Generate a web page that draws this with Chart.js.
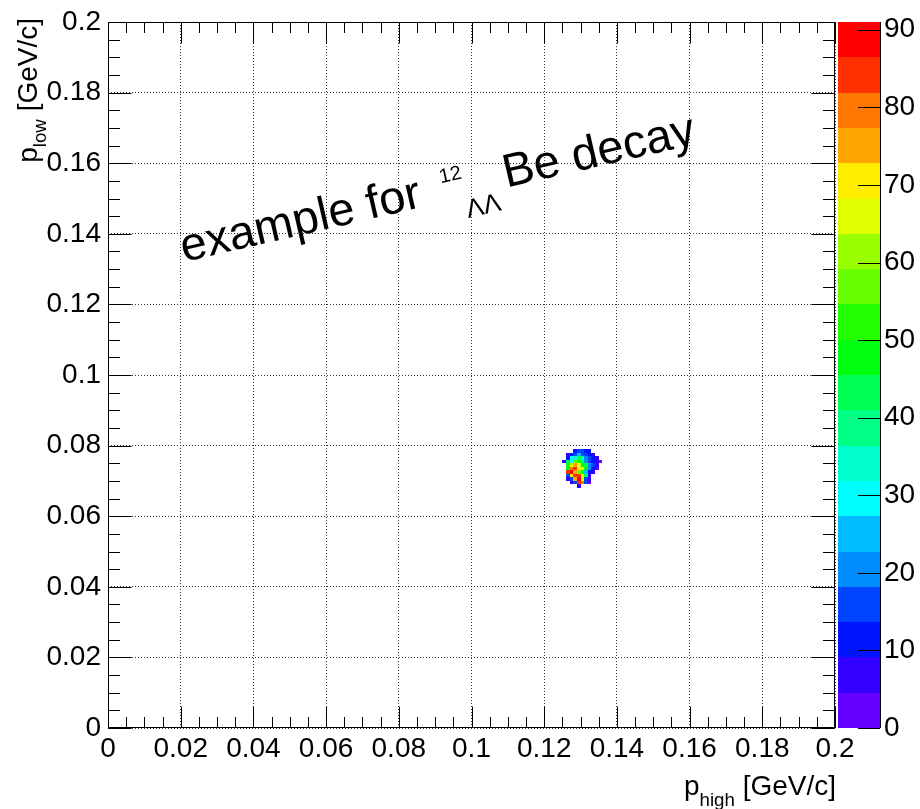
<!DOCTYPE html>
<html><head><meta charset="utf-8">
<script src="https://cdn.jsdelivr.net/npm/chart.js@4.4.0/dist/chart.umd.min.js"></script>
<style>html,body{margin:0;padding:0;background:#fff;}#wrap{width:920px;height:809px;}</style>
</head><body><div id="wrap"><canvas id="c" width="920" height="809"></canvas></div>
<script>
// ---- data ----
const xTicks = [0, 0.02, 0.04, 0.06, 0.08, 0.1, 0.12, 0.14, 0.16, 0.18, 0.2];
const yTicks = [0, 0.02, 0.04, 0.06, 0.08, 0.1, 0.12, 0.14, 0.16, 0.18, 0.2];
const zTicks = [0, 10, 20, 30, 40, 50, 60, 70, 80, 90];
const zMax = 91;
const nLevels = 20;
const binWidth = 0.001;
const xBinLow = [0.125, 0.126, 0.127, 0.128, 0.129, 0.130, 0.131, 0.132, 0.133, 0.134, 0.135];
const yBinLow = [0.078, 0.077, 0.076, 0.075, 0.074, 0.073, 0.072, 0.071, 0.070, 0.069, 0.068];
const counts = [
  [0, 0, 0, 12, 14, 14, 12, 10, 0, 0, 0],
  [0, 5, 12, 16, 24, 18, 14, 12, 6, 0, 0],
  [0, 12, 28, 36, 44, 32, 22, 14, 12, 5, 0],
  [5, 42, 30, 56, 46, 44, 22, 18, 10, 6, 3],
  [0, 46, 66, 76, 64, 48, 44, 20, 14, 6, 0],
  [0, 50, 78, 86, 68, 72, 48, 20, 12, 4, 0],
  [0, 84, 88, 74, 58, 46, 24, 10, 5, 0, 0],
  [0, 16, 70, 86, 84, 64, 44, 6, 0, 0, 0],
  [0, 5, 18, 76, 88, 66, 16, 5, 0, 0, 0],
  [0, 0, 5, 16, 86, 78, 14, 4, 0, 0, 0],
  [0, 0, 0, 0, 6, 0, 0, 0, 0, 0, 0]
];
const xTitleMain = "p", xTitleSub = "high", xTitleRest = " [GeV/c]";
const yTitleMain = "p", yTitleSub = "low", yTitleRest = " [GeV/c]";
const noteMain = "example for", noteSup = "12", noteSub = "\u039B\u039B", noteRest = "Be decay";

// ---- helpers ----
const FONT = "'Liberation Sans', Arial, Helvetica, sans-serif";
function levelColor(j) {
  const i = Math.floor((j + 0.99) * 50 / nLevels);
  const hue = 280 - (i + 1) * 5.6;
  return 'hsl(' + hue + ',100%,50%)';
}
function colorFor(v) {
  let j = Math.floor(v / (zMax / nLevels));
  if (j > nLevels - 1) j = nLevels - 1;
  return levelColor(j);
}
function fmt(v) { return String(parseFloat(Number(v).toFixed(3))); }

const cells = [];
yBinLow.forEach((yl, r) => xBinLow.forEach((xl, c) => {
  const v = counts[r][c];
  if (v > 0) cells.push({x: xl + binWidth / 2, y: yl + binWidth / 2, v: v});
}));

const rootPlugin = {
  id: 'rootStyle',
  afterDatasetsDraw(chart) {
    const ctx = chart.ctx, xs = chart.scales.x, ys = chart.scales.y;
    ctx.save();
    chart.data.datasets[0].data.forEach(p => {
      const x0 = Math.round(xs.getPixelForValue(p.x - binWidth / 2));
      const x1 = Math.round(xs.getPixelForValue(p.x + binWidth / 2));
      const y0 = Math.round(ys.getPixelForValue(p.y - binWidth / 2));
      const y1 = Math.round(ys.getPixelForValue(p.y + binWidth / 2));
      ctx.fillStyle = colorFor(p.v);
      ctx.fillRect(x0, y1, x1 - x0, y0 - y1);
    });
    ctx.restore();
  },
  afterDraw(chart) {
    const ctx = chart.ctx, a = chart.chartArea;
    const xs = chart.scales.x, ys = chart.scales.y, zs = chart.scales.zAxis;
    ctx.save();
    ctx.strokeStyle = '#000';
    ctx.lineWidth = 1;
    const L = Math.round(a.left) + 0.5, R = Math.round(a.right) - 0.5;
    const T = Math.round(a.top) + 0.5, B = Math.round(a.bottom) - 0.5;
    ctx.strokeRect(L, T, R - L, B - T);
    ctx.beginPath();
    for (let k = 0; k <= 40; k++) {
      const v = k * 0.005;
      const major = k % 4 === 0;
      const len = major ? 21 : 10.5;
      const px = Math.round(xs.getPixelForValue(v)) + 0.5;
      ctx.moveTo(px, B); ctx.lineTo(px, B - len);
      ctx.moveTo(px, T); ctx.lineTo(px, T + len);
    }
    for (let k = 0; k <= 40; k++) {
      const v = k * 0.005;
      const major = k % 4 === 0;
      const len = major ? 23 : 11.5;
      const py = Math.round(ys.getPixelForValue(v)) + 0.5;
      ctx.moveTo(L, py); ctx.lineTo(L + len, py);
      ctx.moveTo(R, py); ctx.lineTo(R - len, py);
    }
    ctx.stroke();

    // palette
    const pL = Math.round(a.right) + 3, pR = Math.round(a.right) + 45;
    for (let j = 0; j < nLevels; j++) {
      const yb = Math.round(zs.getPixelForValue(j * zMax / nLevels));
      const yt = Math.round(zs.getPixelForValue((j + 1) * zMax / nLevels));
      ctx.fillStyle = levelColor(j);
      ctx.fillRect(pL, yt, pR - pL, yb - yt);
    }
    ctx.beginPath();
    ctx.moveTo(pR + 0.5, Math.round(zs.top)); ctx.lineTo(pR + 0.5, Math.round(zs.bottom));
    zTicks.forEach(v => {
      const py = Math.round(zs.getPixelForValue(v)) + 0.5;
      ctx.moveTo(pR, py); ctx.lineTo(pR - 22, py);
    });
    ctx.stroke();

    // axis titles
    ctx.fillStyle = '#000';
    ctx.textBaseline = 'alphabetic';
    ctx.textAlign = 'left';
    const big = '28px ' + FONT, small = '18.7px ' + FONT;
    ctx.font = big; const wpx = ctx.measureText(xTitleMain).width, wrx = ctx.measureText(xTitleRest).width;
    ctx.font = small; const wsx = ctx.measureText(xTitleSub).width;
    let sx = a.right + 1 - (wpx + wsx + wrx);
    const bx = 795;
    ctx.font = big; ctx.fillText(xTitleMain, sx, bx);
    ctx.font = small; ctx.fillText(xTitleSub, sx + wpx, bx + 11);
    ctx.font = big; ctx.fillText(xTitleRest, sx + wpx + wsx, bx);

    ctx.save();
    ctx.translate(37, a.top - 4);
    ctx.rotate(-Math.PI / 2);
    ctx.font = big; const wpy = ctx.measureText(yTitleMain).width, wry = ctx.measureText(yTitleRest).width;
    ctx.font = small; const wsy = ctx.measureText(yTitleSub).width;
    const sy = -(wpy + wsy + wry);
    ctx.font = big; ctx.fillText(yTitleMain, sy, 0);
    ctx.font = small; ctx.fillText(yTitleSub, sy + wpy, 9);
    ctx.font = big; ctx.fillText(yTitleRest, sy + wpy + wsy, 0);
    ctx.restore();

    // annotation
    ctx.save();
    ctx.translate(184, 262);
    ctx.rotate(-13 * Math.PI / 180);
    ctx.font = '47px ' + FONT; ctx.fillText(noteMain, 0, 0);
    ctx.font = '20px ' + FONT; ctx.fillText(noteSup, 268, -19);
    ctx.font = '26px ' + FONT; ctx.fillText(noteSub, 287, 21);
    ctx.font = '47px ' + FONT; ctx.fillText(noteRest, 331, 0);
    ctx.restore();

    ctx.restore();
  }
};

const tickFont = {family: FONT, size: 28};
function noPad(s) { s.paddingTop = 0; s.paddingBottom = 0; s.paddingLeft = 0; s.paddingRight = 0; }
new Chart(document.getElementById('c'), {
  type: 'scatter',
  data: {datasets: [{data: cells, pointRadius: 0, pointHoverRadius: 0, showLine: false}]},
  options: {
    responsive: false,
    animation: false,
    devicePixelRatio: 1,
    layout: {padding: {top: 22, left: 0, right: 0, bottom: 0}},
    plugins: {legend: {display: false}, tooltip: {enabled: false}, title: {display: false}},
    events: [],
    scales: {
      x: {
        type: 'linear', position: 'bottom', min: 0, max: 0.2,
        afterBuildTicks: s => { s.ticks = xTicks.map(v => ({value: v})); },
        afterFit: s => { s.height = 81; noPad(s); },
        ticks: {callback: v => fmt(v), font: tickFont, color: '#000', padding: 4, maxRotation: 0, autoSkip: false},
        grid: {color: '#333', lineWidth: 1, drawTicks: false},
        border: {display: false, dash: [1, 2]}
      },
      y: {
        type: 'linear', position: 'left', min: 0, max: 0.2,
        afterBuildTicks: s => { s.ticks = yTicks.map(v => ({value: v})); },
        afterFit: s => { s.width = 108; noPad(s); },
        ticks: {callback: v => fmt(v), font: tickFont, color: '#000', padding: 7, autoSkip: false},
        grid: {color: '#333', lineWidth: 1, drawTicks: false},
        border: {display: false, dash: [1, 2]}
      },
      zAxis: {
        axis: 'y', type: 'linear', position: 'right', min: 0, max: zMax,
        afterBuildTicks: s => { s.ticks = zTicks.map(v => ({value: v})); },
        afterFit: s => { s.width = 85; noPad(s); },
        ticks: {font: tickFont, color: '#000', padding: 49, autoSkip: false},
        grid: {display: false, drawTicks: false},
        border: {display: false}
      }
    }
  },
  plugins: [rootPlugin]
});
</script>
</body></html>
